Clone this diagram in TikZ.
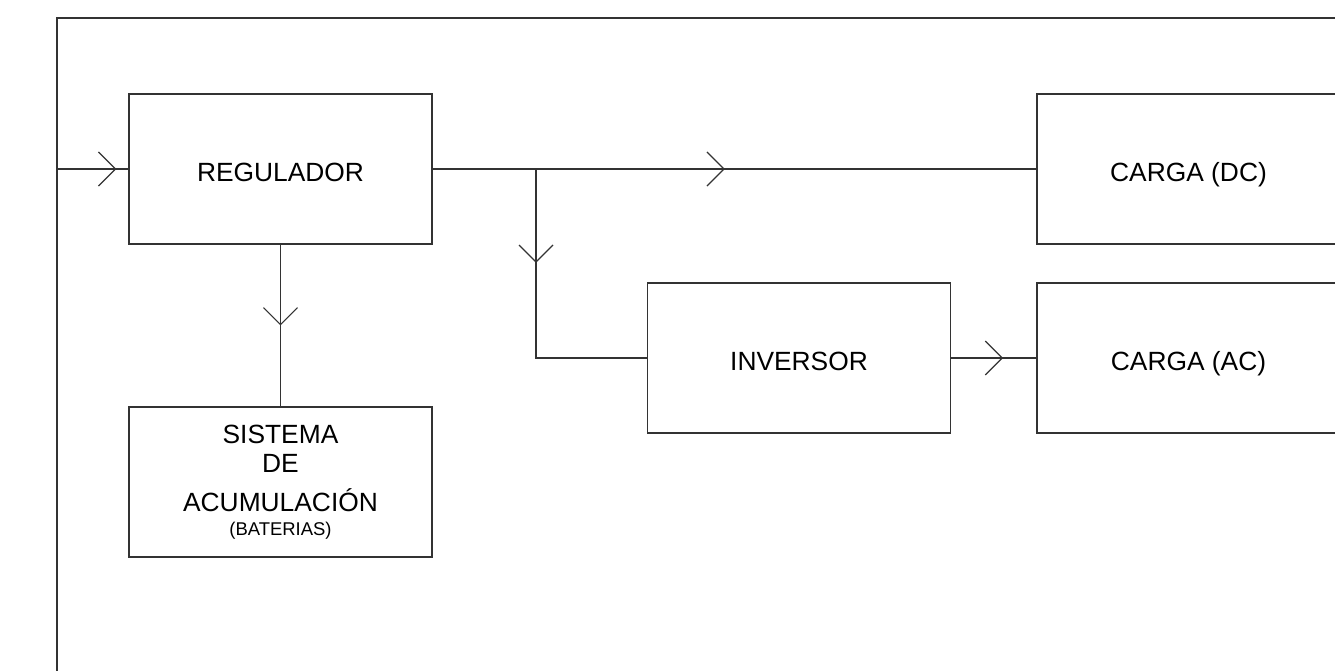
\documentclass[tikz,border=0pt]{standalone}
\usepackage{fontspec}
\setmainfont{Liberation Sans}
\usetikzlibrary{arrows.meta,decorations.markings}
\definecolor{lineaGris}{HTML}{333333}
\tikzset{
  bloque/.style={draw=lineaGris, line width=0.7pt, minimum width=6.06cm, minimum height=3cm, inner sep=0pt, font=\fontsize{15}{17}\selectfont, align=center},
  bloque una/.style={bloque, text height=14.1pt, text depth=0pt},
  linea/.style={draw=lineaGris, line width=0.7pt},
  flecha/.style={postaction={decorate, decoration={markings, mark=at position #1 with {\arrow{Straight Barb[length=0.34cm, width=0.68cm]}}}}},
}
\begin{document}
\begin{tikzpicture}[x=0.02cm, y=-0.02cm]
  \clip (0,0) rectangle (1335,671);
  % Outer frame, open to the right and bottom
  \draw[linea] (1340,18) -| (57,680);
  % Blocks
  \node[bloque una] (reg) at (280.5,169) {REGULADOR};
  \node[bloque una] (dc) at (1188.5,169) {CARGA (DC)};
  \node[bloque una] (inv) at (799,358) {INVERSOR};
  \node[bloque una] (ac) at (1188.5,358) {CARGA (AC)};
  \node[bloque] (sis) at (280.5,482) {SISTEMA\\DE\\[5pt]ACUMULACIÓN\\[-3.4pt]{\fontsize{10.5}{17}\selectfont (BATERIAS)}};
  % Connectors with open chevrons half-way
  \coordinate (entrada) at (57,169);
  \coordinate (rama) at (536,169);
  \draw[linea, flecha=0.83] (entrada) -- (reg.west);
  \draw[linea, flecha=0.484] (reg.east) -- (dc.west);
  \draw[linea, flecha=0.5] (reg.south) -- (sis.north);
  \draw[linea, flecha=0.313] (rama) |- (inv.west);
  \draw[linea, flecha=0.61] (inv.east) -- (ac.west);
\end{tikzpicture}
\end{document}
